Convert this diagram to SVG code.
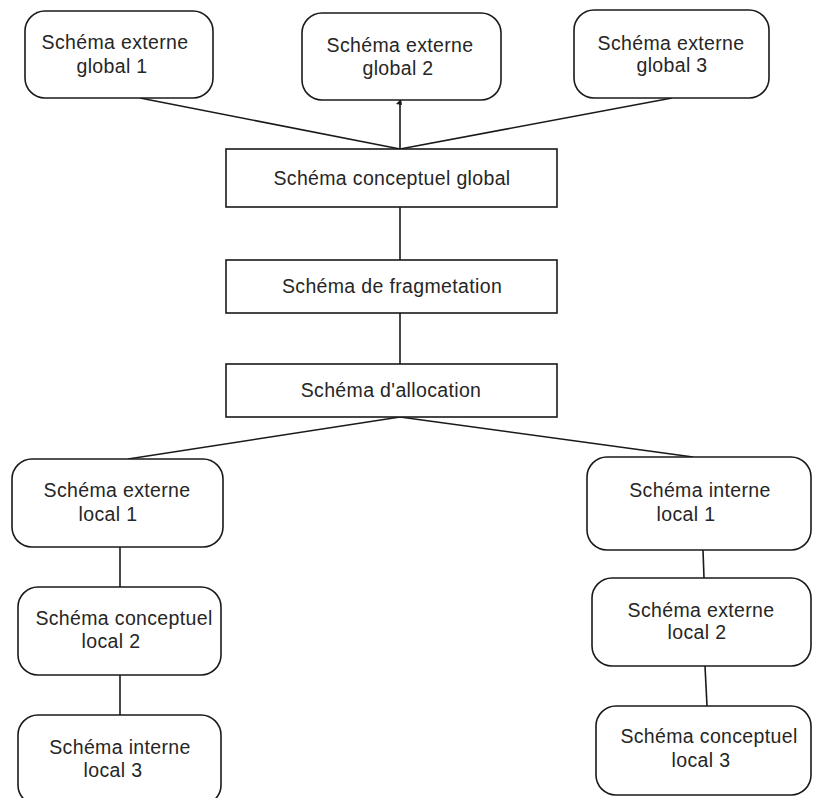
<svg xmlns="http://www.w3.org/2000/svg" width="813" height="798" viewBox="0 0 813 798">
  <style>
    .box { fill: #ffffff; stroke: #1a1a1a; stroke-width: 1.6; }
    .lbl { font-family: "Liberation Sans", Arial, sans-serif; font-size: 19.5px; letter-spacing: 0.35px; fill: #262626; text-anchor: middle; }
    .wire { stroke: #1a1a1a; stroke-width: 1.6; fill: none; }
  </style>
  <rect width="813" height="798" fill="#ffffff"/>

  <!-- connectors -->
  <g id="connectors">
    <line class="wire" x1="140" y1="98" x2="400" y2="149"/>
    <line class="wire" x1="400" y1="102" x2="400" y2="149"/>
    <polygon points="396,104 401,99 402,105" fill="#1a1a1a"/>
    <line class="wire" x1="672" y1="98" x2="400" y2="149"/>
    <line class="wire" x1="400" y1="207" x2="400" y2="260"/>
    <line class="wire" x1="400" y1="313" x2="400" y2="364"/>
    <line class="wire" x1="400" y1="417" x2="128" y2="459"/>
    <line class="wire" x1="400" y1="417" x2="693" y2="457"/>
    <line class="wire" x1="120" y1="547" x2="120" y2="587"/>
    <line class="wire" x1="120" y1="675" x2="120" y2="715"/>
    <line class="wire" x1="703" y1="550" x2="704" y2="578"/>
    <line class="wire" x1="705" y1="666" x2="707" y2="706"/>
  </g>

  <g id="seg1">
    <rect class="box" x="25" y="11" width="188" height="87" rx="20"/>
    <text class="lbl" x="115" y="49">Schéma externe</text>
    <text class="lbl" x="112" y="73">global 1</text>
  </g>
  <g id="seg2">
    <rect class="box" x="302" y="13" width="199" height="87" rx="20"/>
    <text class="lbl" x="400" y="52">Schéma externe</text>
    <text class="lbl" x="398" y="75">global 2</text>
  </g>
  <g id="seg3">
    <rect class="box" x="574" y="10" width="195" height="88" rx="20"/>
    <text class="lbl" x="671" y="50">Schéma externe</text>
    <text class="lbl" x="672" y="72">global 3</text>
  </g>

  <g id="conceptuel-global">
    <rect class="box" x="226" y="149" width="331" height="58"/>
    <text class="lbl" x="392" y="185">Schéma conceptuel global</text>
  </g>
  <g id="fragmentation">
    <rect class="box" x="226" y="260" width="331" height="53"/>
    <text class="lbl" x="392" y="293">Schéma de fragmetation</text>
  </g>
  <g id="allocation">
    <rect class="box" x="226" y="364" width="331" height="53"/>
    <text class="lbl" x="391" y="397">Schéma d'allocation</text>
  </g>

  <g id="sel1">
    <rect class="box" x="12" y="459" width="211" height="88" rx="20"/>
    <text class="lbl" x="117" y="497">Schéma externe</text>
    <text class="lbl" x="108" y="521">local 1</text>
  </g>
  <g id="scl2">
    <rect class="box" x="18" y="587" width="203" height="88" rx="20"/>
    <text class="lbl" x="124" y="625">Schéma conceptuel</text>
    <text class="lbl" x="111" y="648">local 2</text>
  </g>
  <g id="sil3">
    <rect class="box" x="18" y="715" width="203" height="90" rx="20"/>
    <text class="lbl" x="120" y="754">Schéma interne</text>
    <text class="lbl" x="113" y="777">local 3</text>
  </g>

  <g id="sil1">
    <rect class="box" x="587" y="457" width="224" height="93" rx="20"/>
    <text class="lbl" x="700" y="497">Schéma interne</text>
    <text class="lbl" x="686" y="521">local 1</text>
  </g>
  <g id="sel2">
    <rect class="box" x="592" y="578" width="219" height="88" rx="20"/>
    <text class="lbl" x="701" y="617">Schéma externe</text>
    <text class="lbl" x="697" y="639">local 2</text>
  </g>
  <g id="scl3">
    <rect class="box" x="596" y="706" width="215" height="89" rx="20"/>
    <text class="lbl" x="709" y="743">Schéma conceptuel</text>
    <text class="lbl" x="701" y="767">local 3</text>
  </g>
</svg>
